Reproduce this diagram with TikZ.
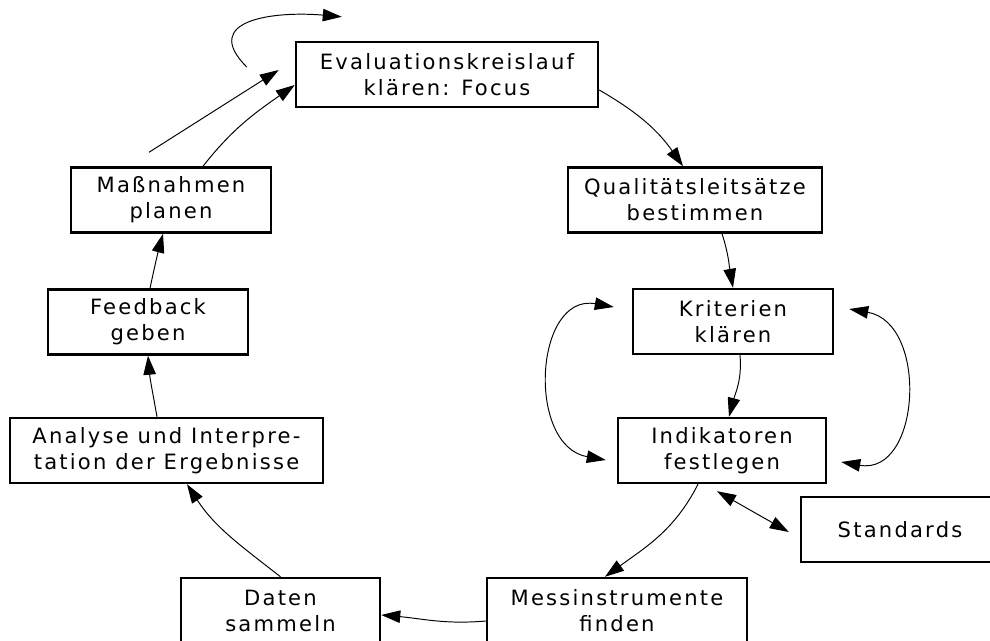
\documentclass[tikz,border=0pt]{standalone}
\usepackage{fontspec}
\setmainfont[LetterSpace=10.5]{DejaVu Sans}
\usetikzlibrary{arrows.meta}

\begin{document}
\begin{tikzpicture}[node distance=2cm, auto,
    stepbox/.style={draw, line width=1.4pt, minimum width=4cm, minimum height=1.3cm, inner sep=0pt, align=center, font=\fontsize{12}{14.8}\selectfont},
    flow/.style={-{Triangle[length=3.8mm,width=2.5mm]}, line width=0.55pt},
    both/.style={{Triangle[length=3.8mm,width=2.5mm]}-{Triangle[length=3.8mm,width=2.5mm]}, line width=0.55pt}]
    \useasboundingbox (0,0) rectangle (19.8,-12.82);
    \node(Eval) [stepbox, minimum width=6.04cm] at (8.94,-1.49) {Evaluationskreislauf\\klären: Focus};
    \node(Qual) [stepbox, minimum width=5.08cm, node distance=2.51cm, below of=Eval, xshift=4.96cm] {Qualitätsleitsätze\\bestimmen};
    \node(Krit) [stepbox, node distance=2.43cm, below of=Qual, xshift=0.76cm] {Kriterien\\klären};
    \node(Ind) [stepbox, minimum width=4.16cm, node distance=2.58cm, below of=Krit, xshift=-0.22cm] {Indikatoren\\festlegen};
    \node(Std) [stepbox, minimum width=3.96cm, node distance=3.56cm, right of=Ind, yshift=-1.58cm] {Standards};
    \node(Mess) [stepbox, minimum width=5.2cm, node distance=3.2cm, below of=Ind, xshift=-2.1cm] {Messinstrumente\\finden};
    \node(Dat) [stepbox, minimum width=3.98cm, node distance=6.73cm, left of=Mess] {Daten\\sammeln};
    \node(Ana) [stepbox, minimum width=6.26cm, node distance=11.11cm, left of=Ind] {Analyse und Interpre-\\tation der Ergebnisse};
    \node(Feed) [stepbox, node distance=2.57cm, above of=Ana, xshift=-0.37cm] {Feedback\\geben};
    \node(Mass) [stepbox, node distance=2.44cm, above of=Feed, xshift=0.46cm] {Maßnahmen\\planen};
    \draw[flow]([yshift=-0.31cm]Eval.east) to[out=-30, in=125]([xshift=-0.24cm]Qual.north);
    \draw[flow]([xshift=0.54cm]Qual.south) to[out=-72, in=100](Krit.north);
    \draw[flow]([xshift=0.14cm]Krit.south) to[out=-85, in=75]([xshift=0.14cm]Ind.north);
    \draw[both]([xshift=-0.36cm, yshift=0.29cm]Krit.west) to[out=170, in=170, looseness=1.35]([xshift=-0.22cm, yshift=-0.19cm]Ind.west);
    \draw[both]([xshift=0.3cm, yshift=0.25cm]Krit.east) to[out=-10, in=-10, looseness=1.35]([xshift=0.28cm, yshift=-0.23cm]Ind.east);
    \draw[flow]([xshift=-0.48cm]Ind.south) to[out=-117, in=36]([xshift=-0.24cm]Mess.north);
    \draw[both]([xshift=-0.1cm, yshift=-0.14cm]Ind.south) -- ([xshift=-0.22cm, yshift=-0.05cm]Std.west);
    \draw[flow]([yshift=-0.21cm]Mess.west) to[out=185, in=-5]([yshift=-0.09cm]Dat.east);
    \draw[flow](Dat.north) to[out=142, in=-57]([xshift=0.41cm]Ana.south);
    \draw[flow]([xshift=-0.19cm]Ana.north) to[out=100, in=-85](Feed.south);
    \draw[flow]([xshift=0.04cm]Feed.north) to[out=78, in=-105]([xshift=-0.16cm]Mass.south);
    \draw[flow]([xshift=0.64cm]Mass.north) to[out=52, in=215]([yshift=-0.21cm]Eval.west);
    \coordinate(tail) at ([xshift=-0.44cm, yshift=0.28cm]Mass.north);
    \draw[flow](tail) -- ([xshift=-0.32cm, yshift=0.09cm]Eval.west);
    \coordinate(loop) at ([xshift=-0.96cm, yshift=0.15cm]Eval.west);
    \coordinate(loopend) at ([xshift=0.94cm, yshift=0.48cm]Eval.north west);
    \draw[flow](loop) to[out=135, in=175, looseness=1.6](loopend);
\end{tikzpicture}
\end{document}
